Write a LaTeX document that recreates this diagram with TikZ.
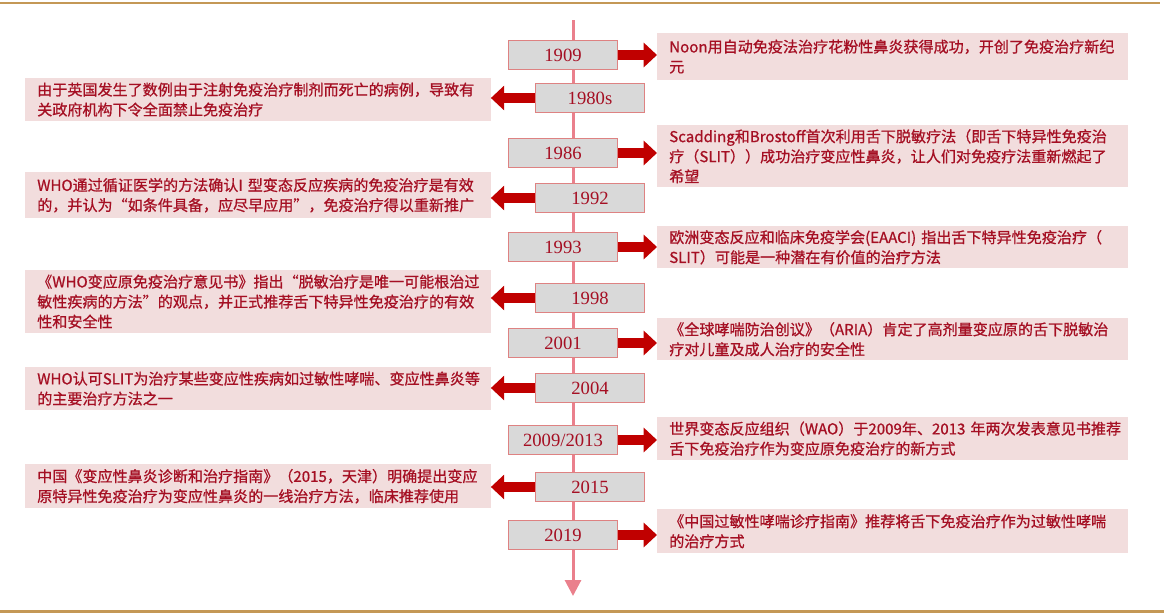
\documentclass[tikz,border=0pt]{standalone}
\usepackage{fontspec}
\setmainfont{Liberation Serif}
\newfontfamily\cjk[FakeBold=0.8]{Noto Sans CJK SC}
\usepackage{xcolor}
\definecolor{goldline}{RGB}{196,152,86}
\definecolor{tlpink}{RGB}{234,128,140}
\definecolor{yrgray}{RGB}{217,217,217}
\definecolor{yredge}{RGB}{222,130,130}
\definecolor{darrow}{RGB}{192,0,0}
\definecolor{lpink}{RGB}{242,221,221}
\definecolor{txtred}{RGB}{165,15,35}
\usetikzlibrary{arrows.meta,calc}

\begin{document}
\begin{tikzpicture}[x=0.75pt,y=-0.75pt,
  yearbox/.style={draw=yredge,fill=yrgray,line width=0.9pt,minimum width=81.75pt,minimum height=21.75pt,inner sep=0pt,font=\fontsize{14}{16}\selectfont,text=txtred},
  rdesc/.style={fill=lpink,anchor=north west,text width=335pt,inner xsep=9pt,inner ysep=0pt,align=left,font=\cjk\fontsize{11.3}{15}\selectfont,text=txtred},
  ldesc/.style={rdesc,text width=331pt},
  blockarrow/.style={darrow,line width=8pt,-{Triangle[width=18pt,length=10pt]}}]
  \useasboundingbox (0,0) rectangle (1164,614);

  % gold rules top and bottom
  \draw[goldline,line width=1.5pt] (0,3) -- (1160,3);
  \draw[goldline,line width=2.25pt] (0,611) -- (1164,611);

  % time axis
  \coordinate (axistop) at (573,20);
  \coordinate (axisend) at (573,596);
  \draw[tlpink,line width=2.25pt,-{Triangle[width=12pt,length=12pt]}] (axistop) -- (axisend);

  % description boxes, right side
  \node[rdesc,minimum height=35pt] (t1909) at (657,33) {Noon用自动免疫法治疗花粉性鼻炎获得成功，开创了免疫治疗新纪\\元};
  \node[rdesc,minimum height=46.5pt] (t1986) at (657,125) {Scadding和Brostoff首次利用舌下脱敏疗法（即舌下特异性免疫治\\疗（SLIT））成功治疗变应性鼻炎，让人们对免疫疗法重新燃起了\\希望};
  \node[rdesc,minimum height=31.5pt] (t1993) at (657,226) {欧洲变态反应和临床免疫学会(EAACI)~指出舌下特异性免疫治疗（\\SLIT）可能是一种潜在有价值的治疗方法};
  \node[rdesc,minimum height=31.5pt] (t2001) at (657,318) {《全球哮喘防治创议》（ARIA）肯定了高剂量变应原的舌下脱敏治\\疗对儿童及成人治疗的安全性};
  \node[rdesc,minimum height=32pt] (t2009) at (657,417) {世界变态反应组织（WAO）于2009年、2013~年两次发表意见书推荐\\舌下免疫治疗作为变应原免疫治疗的新方式};
  \node[rdesc,minimum height=33pt] (t2019) at (657,509) {《中国过敏性哮喘诊疗指南》推荐将舌下免疫治疗作为过敏性哮喘\\的治疗方式};

  % description boxes, left side
  \node[ldesc,minimum height=32pt] (t1980) at (25,78) {由于英国发生了数例由于注射免疫治疗制剂而死亡的病例，导致有\\关政府机构下令全面禁止免疫治疗};
  \node[ldesc,minimum height=34.5pt] (t1992) at (25,172) {WHO通过循证医学的方法确认I~型变态反应疾病的免疫治疗是有效\\的，并认为“如条件具备，应尽早应用”，免疫治疗得以重新推广};
  \node[ldesc,minimum height=47pt] (t1998) at (25,270) {《WHO变应原免疫治疗意见书》指出“脱敏治疗是唯一可能根治过\\敏性疾病的方法”的观点，并正式推荐舌下特异性免疫治疗的有效\\性和安全性};
  \node[ldesc,minimum height=32pt] (t2004) at (25,367) {WHO认可SLIT为治疗某些变应性疾病如过敏性哮喘、变应性鼻炎等\\的主要治疗方法之一};
  \node[ldesc,minimum height=33pt] (t2015) at (25,464) {中国《变应性鼻炎诊断和治疗指南》（2015，天津）明确提出变应\\原特异性免疫治疗为变应性鼻炎的一线治疗方法，临床推荐使用};

  % year boxes on the axis
  \node[yearbox] (y1909) at (563,55) {1909};
  \node[yearbox] (y1980) at (590,98) {1980s};
  \node[yearbox] (y1986) at (563,153) {1986};
  \node[yearbox] (y1992) at (590,198) {1992};
  \node[yearbox] (y1993) at (563,247) {1993};
  \node[yearbox] (y1998) at (590,298) {1998};
  \node[yearbox] (y2001) at (563,343) {2001};
  \node[yearbox] (y2004) at (590,388) {2004};
  \node[yearbox] (y2009) at (563,440) {2009/2013};
  \node[yearbox] (y2015) at (590,487) {2015};
  \node[yearbox] (y2019) at (563,535) {2019};

  % arrows from years to events
  \foreach \yr in {1909,1986,1993,2001,2009,2019}
    \draw[blockarrow] (y\yr.east) -- (y\yr.east -| t\yr.west);
  \foreach \yr in {1980,1992,1998,2004,2015}
    \draw[blockarrow] (y\yr.west) -- (y\yr.west -| t\yr.east);
\end{tikzpicture}
\end{document}
